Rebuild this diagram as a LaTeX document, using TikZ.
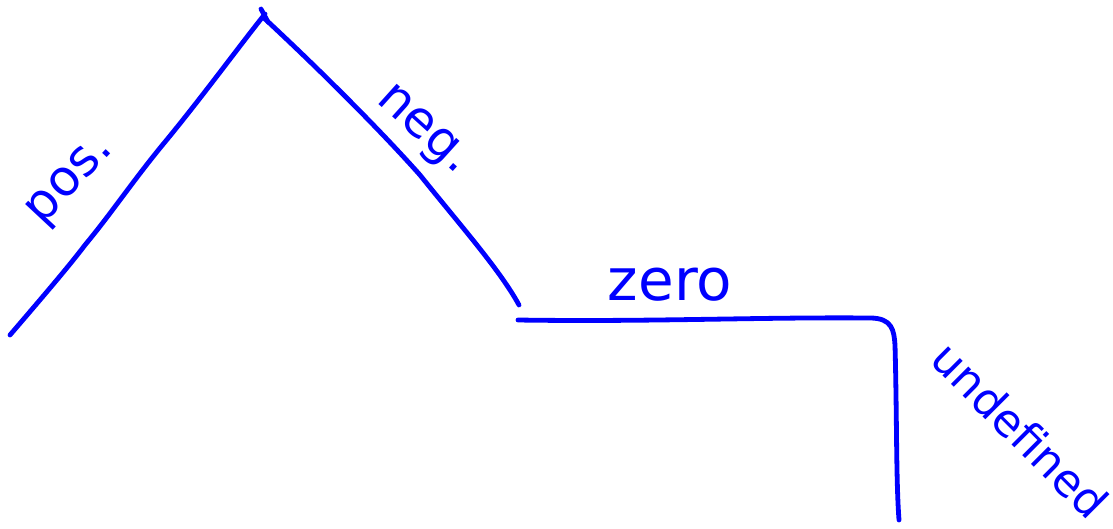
\documentclass[tikz,border=0pt]{standalone}
\usepackage{fontspec}
\setmainfont{DejaVu Sans}
\begin{document}
\begin{tikzpicture}[x=1pt,y=-1pt,
  ink/.style={draw=blue,line width=4.8pt,line cap=round,line join=round},
  lab/.style={text=blue,inner sep=0pt,font=\fontsize{50}{50}\selectfont}]
\useasboundingbox (0,0) rectangle (1113,528);
% positive slope
\draw[ink] (10,335) .. controls (40,300) and (70,265) .. (85,245)
  .. controls (110,215) and (130,185) .. (160,148)
  .. controls (200,100) and (240,45) .. (265,14);
\draw[ink] (261,9) -- (268,22);
% negative slope
\draw[ink] (264,18) .. controls (320,70) and (380,130) .. (420,175)
  .. controls (460,225) and (500,270) .. (519,305);
% zero
\draw[ink] (518,320) .. controls (650,322) and (760,317) .. (870,318)
  .. controls (892,318) and (894,330) .. (895,345)
  .. controls (897,420) and (896,480) .. (899,520);
% labels
\node[lab,rotate=47] (pos) at (72,182) {pos.};
\node[lab,rotate=-42] (neg) at (422,132) {neg.};
\node[lab,font=\fontsize{58}{58}\selectfont] (zero) at (670,285) {zero};
\node[lab,font=\fontsize{45}{45}\selectfont,rotate=-45] (undef) at (1020,430) {undefined};
\end{tikzpicture}
\end{document}
